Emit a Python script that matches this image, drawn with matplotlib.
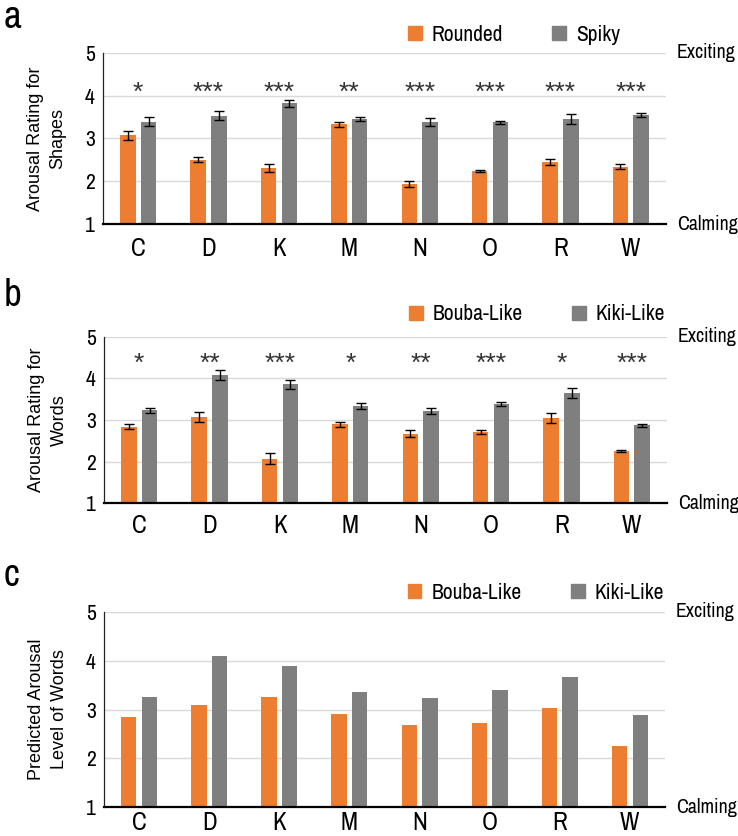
import numpy as np
import matplotlib.pyplot as plt
from matplotlib.patches import Patch
from matplotlib import font_manager

#--------config begin--------
letters = ["C", "D", "K", "M", "N", "O", "R", "W"]

rounded = [3.07, 2.50, 2.30, 3.33, 1.93, 2.24, 2.45, 2.34]
rounded_err = [0.11, 0.06, 0.09, 0.06, 0.07, 0.03, 0.07, 0.05]
spiky = [3.39, 3.53, 3.82, 3.45, 3.38, 3.38, 3.46, 3.55]
spiky_err = [0.10, 0.10, 0.085, 0.045, 0.085, 0.035, 0.12, 0.045]
stars_a = ["*", "***", "***", "**", "***", "***", "***", "***"]

bouba_words = [2.84, 3.08, 2.07, 2.90, 2.67, 2.72, 3.04, 2.25]
bouba_words_err = [0.064, 0.12, 0.13, 0.06, 0.08, 0.05, 0.12, 0.03]
kiki_words = [3.23, 4.08, 3.86, 3.34, 3.22, 3.38, 3.65, 2.87]
kiki_words_err = [0.064, 0.13, 0.11, 0.07, 0.07, 0.04, 0.12, 0.03]
stars_b = ["*", "**", "***", "*", "**", "***", "*", "***"]

bouba_pred = [2.85, 3.09, 3.25, 2.90, 2.68, 2.72, 3.04, 2.26]
kiki_pred = [3.25, 4.09, 3.88, 3.35, 3.23, 3.39, 3.67, 2.88]

orange = "#ED7D31"
gray = "#7F7F7F"
#--------config end--------

# look for any condensed / narrow sans face, otherwise fall back
narrow_fp = None
cands = []
for f in font_manager.fontManager.ttflist:
  tag = (f.name + " " + f.fname).lower()
  if ("condensed" in tag or "narrow" in tag or str(f.stretch) in ("condensed", "semi-condensed")) \
     and f.style == "normal" and "serif" not in f.name.lower() and "mono" not in tag and "bold" not in tag:
    cands.append(f)
for pref in ("narrow", "roboto", "open", "noto", "dejavu"):
  for f in cands:
    if pref in (f.name + f.fname).lower():
      narrow_fp = f.fname
      break
  if narrow_fp:
    break
if narrow_fp is None and cands:
  narrow_fp = cands[0].fname


def nfont(size):
  if narrow_fp:
    return font_manager.FontProperties(fname=narrow_fp, size=size)
  return font_manager.FontProperties(family="DejaVu Sans", size=size * 0.85)


regular = "Liberation Sans"


def draw_panel(ax, vals1, vals2, err1, err2, stars, star_y, ylabel, leg1, leg2, leg_y, xpad):
  x = np.arange(len(letters))
  w = 0.22
  off = 0.147
  ekw = dict(ecolor="black", elinewidth=1, capsize=3.5, capthick=1)
  if err1 is not None:
    ax.bar(x - off, vals1, w, color=orange, yerr=err1, error_kw=ekw, zorder=3)
    ax.bar(x + off, vals2, w, color=gray, yerr=err2, error_kw=ekw, zorder=3)
  else:
    ax.bar(x - off, vals1, w, color=orange, zorder=3)
    ax.bar(x + off, vals2, w, color=gray, zorder=3)

  ax.set_xlim(-0.5, len(letters) - 0.5)
  ax.set_ylim(1, 5)
  ax.set_yticks([1, 2, 3, 4, 5])
  ax.grid(axis="y", color="#D9D9D9", lw=1, zorder=0)
  for s in ("top", "right"):
    ax.spines[s].set_visible(False)
  ax.spines["bottom"].set_linewidth(1.6)
  ax.spines["bottom"].set_zorder(4)
  ax.spines["left"].set_linewidth(0.9)
  ax.spines["left"].set_color("#222222")
  ax.set_xticks(x)
  ax.set_xticklabels(letters, fontproperties=nfont(18))
  ax.tick_params(axis="x", length=0, pad=xpad)
  ax.tick_params(axis="y", length=0, pad=6)
  for lab in ax.get_yticklabels():
    lab.set_fontproperties(nfont(15.5))

  if stars is not None:
    for xi, s in zip(x, stars):
      ax.text(xi, star_y, s, ha="center", va="center", fontsize=19, family=regular, color="#333333")

  ax.text(-0.1, 0.5, ylabel, transform=ax.transAxes, rotation=90, ha="center", va="center",
          multialignment="center", fontsize=13, family=regular, linespacing=1.45)
  ax.text(1.019, 1.0, "Exciting", transform=ax.transAxes, ha="left", va="center", fontproperties=nfont(14.3))
  ax.text(1.019, 0.0, "Calming", transform=ax.transAxes, ha="left", va="center", fontproperties=nfont(14.3))

  handles = [Patch(color=orange, label=leg1), Patch(color=gray, label=leg2)]
  ax.legend(handles=handles, loc="center left", bbox_to_anchor=(0.541, leg_y), ncol=2, frameon=False,
            borderpad=0, borderaxespad=0, handlelength=0.65, handleheight=0.65, handletextpad=0.45,
            columnspacing=2.3, prop=nfont(15.5))


if __name__ == "__main__":
  fig = plt.figure(figsize=(7.38, 8.36), dpi=100)
  ax_a = fig.add_axes([103 / 738, 1 - 224 / 836, 563 / 738, 171.3 / 836])
  ax_b = fig.add_axes([104 / 738, 1 - 503.3 / 836, 563 / 738, 166.7 / 836])
  ax_c = fig.add_axes([104 / 738, 1 - 807.3 / 836, 561 / 738, 195.6 / 836])

  draw_panel(ax_a, rounded, spiky, rounded_err, spiky_err, stars_a, 4.06,
             "Arousal Rating for\nShapes", "Rounded", "Spiky", 1.106, 9)
  draw_panel(ax_b, bouba_words, kiki_words, bouba_words_err, kiki_words_err, stars_b, 4.34,
             "Arousal Rating for\nWords", "Bouba-Like", "Kiki-Like", 1.133, 8)
  draw_panel(ax_c, bouba_pred, kiki_pred, None, None, None, None,
             "Predicted Arousal\nLevel of Words", "Bouba-Like", "Kiki-Like", 1.098, 3)

  for lab, y in (("a", 17), ("b", 295), ("c", 575)):
    fig.text(12 / 738, 1 - y / 836, lab, ha="center", va="center", fontproperties=nfont(28))

  fig.savefig("out.png", dpi=100)
